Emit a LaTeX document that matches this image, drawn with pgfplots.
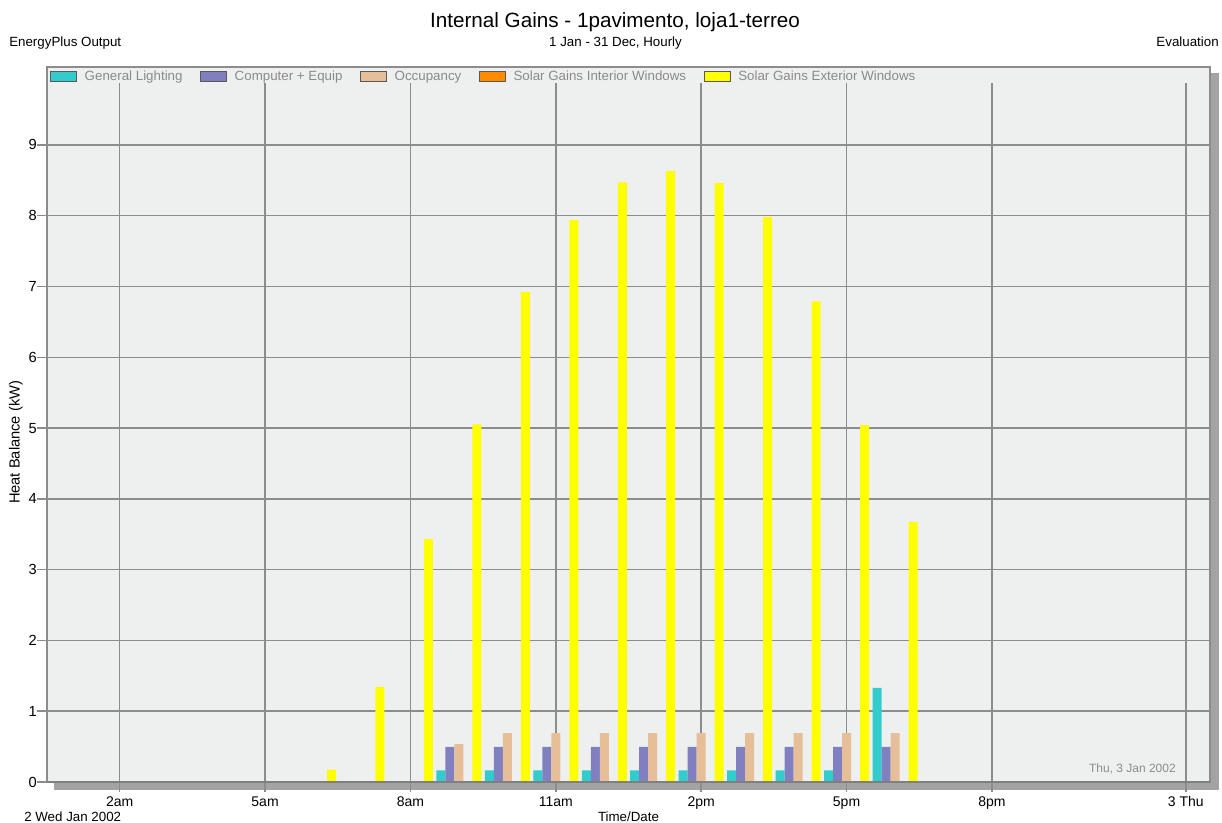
\documentclass[border=0pt]{standalone}
\usepackage{fontspec}
\setmainfont{Liberation Sans}
\usepackage{pgfplots}
\usepackage{pgfplotstable}
\pgfplotsset{compat=1.18}
\definecolor{plotbg}{HTML}{EEF0EF}
\definecolor{gridc}{HTML}{8C8C8C}
\definecolor{shadowc}{HTML}{A3A3A3}
\definecolor{framec}{HTML}{7F7F7F}
\definecolor{lightc}{HTML}{33CCCC}
\definecolor{compc}{HTML}{8080C0}
\definecolor{occc}{HTML}{E6BF99}
\definecolor{intc}{HTML}{FF8C00}
\definecolor{extc}{HTML}{FFFF00}
\definecolor{legtext}{HTML}{8A8A8A}

\pgfplotstableread{
h light comp occ int ext
1 0 0 0 0 0
2 0 0 0 0 0
3 0 0 0 0 0
4 0 0 0 0 0
5 0 0 0 0 0
6 0 0 0 0 0.175
7 0 0 0 0 1.34
8 0 0 0 0 3.43
9 0.165 0.495 0.535 0 5.05
10 0.165 0.495 0.69 0 6.92
11 0.165 0.495 0.69 0 7.94
12 0.165 0.495 0.69 0 8.47
13 0.165 0.495 0.69 0 8.63
14 0.165 0.495 0.69 0 8.46
15 0.165 0.495 0.69 0 7.98
16 0.165 0.495 0.69 0 6.79
17 0.165 0.495 0.69 0 5.04
18 1.33 0.495 0.69 0 3.67
19 0 0 0 0 0
20 0 0 0 0 0
21 0 0 0 0 0
22 0 0 0 0 0
23 0 0 0 0 0
24 0 0 0 0 0
}\gains

\pgfplotsset{
  swatch/.style={legend image code/.code={\draw[fill=#1,draw=black!65,line width=0.6pt] (0pt,-3.75pt) rectangle (19.5pt,3.75pt);}},
  gbar/.style={ybar, bar width=6.75pt, draw=none},
}

\begin{document}
\begin{tikzpicture}
\path[use as bounding box] (-35.25pt,-30.75pt) rectangle (881.25pt,586.5pt);
% frame shadow
\fill[shadowc] (5.25pt,-6pt) rectangle (879pt,0pt);
\fill[shadowc] (871.5pt,-6pt) rectangle (879pt,531.75pt);
\begin{axis}[
  at={(0pt,0pt)}, anchor=south west,
  scale only axis, width=872.25pt, height=536.25pt,
  xmin=0.5, xmax=24.5, ymin=0, ymax=10.1,
  axis background/.style={fill=plotbg},
  axis line style={gridc, line width=1.3pt},
  xtick={2,5,8,11,14,17,20,24},
  xticklabels={2am,5am,8am,11am,2pm,5pm,8pm,3 Thu},
  ytick={0,1,...,9},
  /pgf/number format/assume math mode=true,
  tick align=outside, xtick pos=bottom, ytick pos=left,
  major tick length=7.5pt,
  tick style={gridc, line width=1.1pt},
  ymajorgrids,
  major grid style={gridc, line width=1.1pt},
  xticklabel style={font=\fontsize{10.5}{12}\selectfont},
  yticklabel style={font=\fontsize{11}{13}\selectfont, xshift=3.3pt},
  xlabel={Time/Date},
  xlabel style={at={(axis description cs:0.5,-0.0555)}, anchor=base, font=\fontsize{10}{12}\selectfont},
  ylabel={Heat Balance (kW)},
  ylabel style={at={(axis description cs:-0.0267,0.475)}, anchor=center, font=\fontsize{11}{13}\selectfont},
  legend style={at={(0,1)}, anchor=north west, xshift=2pt, yshift=-0.5pt, fill=none, draw=none,
    inner xsep=0pt, inner ysep=0pt, font=\fontsize{10}{12}\selectfont, text=legtext,
    /tikz/every odd column/.append style={column sep=4pt},
    /tikz/every even column/.append style={column sep=11pt}},
  legend columns=5,
]
\pgfplotsinvokeforeach{2,5,8,11,14,17,20,24}{
  \draw[gridc, line width=1.1pt] (axis cs:#1,0) -- (axis cs:#1,9.88);
}
\addplot[gbar, bar shift=-13.5pt, fill=lightc, swatch=lightc] table[x=h,y=light]{\gains};
\addlegendentry{General Lighting}
\addplot[gbar, bar shift=-6.75pt, fill=compc, swatch=compc] table[x=h,y=comp]{\gains};
\addlegendentry{Computer + Equip}
\addplot[gbar, bar shift=0pt, fill=occc, swatch=occc] table[x=h,y=occ]{\gains};
\addlegendentry{Occupancy}
\addplot[gbar, bar shift=6.75pt, fill=intc, swatch=intc] table[x=h,y=int]{\gains};
\addlegendentry{Solar Gains Interior Windows}
\addplot[gbar, bar shift=13.5pt, fill=extc, swatch=extc] table[x=h,y=ext]{\gains};
\addlegendentry{Solar Gains Exterior Windows}
\end{axis}
\draw[framec, line width=1.5pt] (0pt,0pt) -- (872.25pt,0pt);
% titles and annotations
\node[anchor=base, font=\fontsize{15.5}{18}\selectfont] at (426pt,565.5pt) {Internal Gains - 1pavimento, loja1-terreo};
\node[anchor=base, font=\fontsize{10}{12}\selectfont, inner sep=0pt] at (426.4pt,551.25pt) {1 Jan - 31 Dec, Hourly};
\node[anchor=base west, font=\fontsize{10}{12}\selectfont, inner sep=0pt] at (-28.5pt,551.25pt) {EnergyPlus Output};
\node[anchor=base east, font=\fontsize{10}{12}\selectfont, inner sep=0pt] at (879pt,551.25pt) {Evaluation};
\node[anchor=base west, font=\fontsize{10}{12}\selectfont, inner sep=0pt] at (-17.25pt,-29.8pt) {2 Wed Jan 2002};
\node[anchor=base east, font=\fontsize{9}{11}\selectfont, text=black!45, inner sep=0pt] at (846.75pt,6.75pt) {Thu, 3 Jan 2002};
\end{tikzpicture}
\end{document}
